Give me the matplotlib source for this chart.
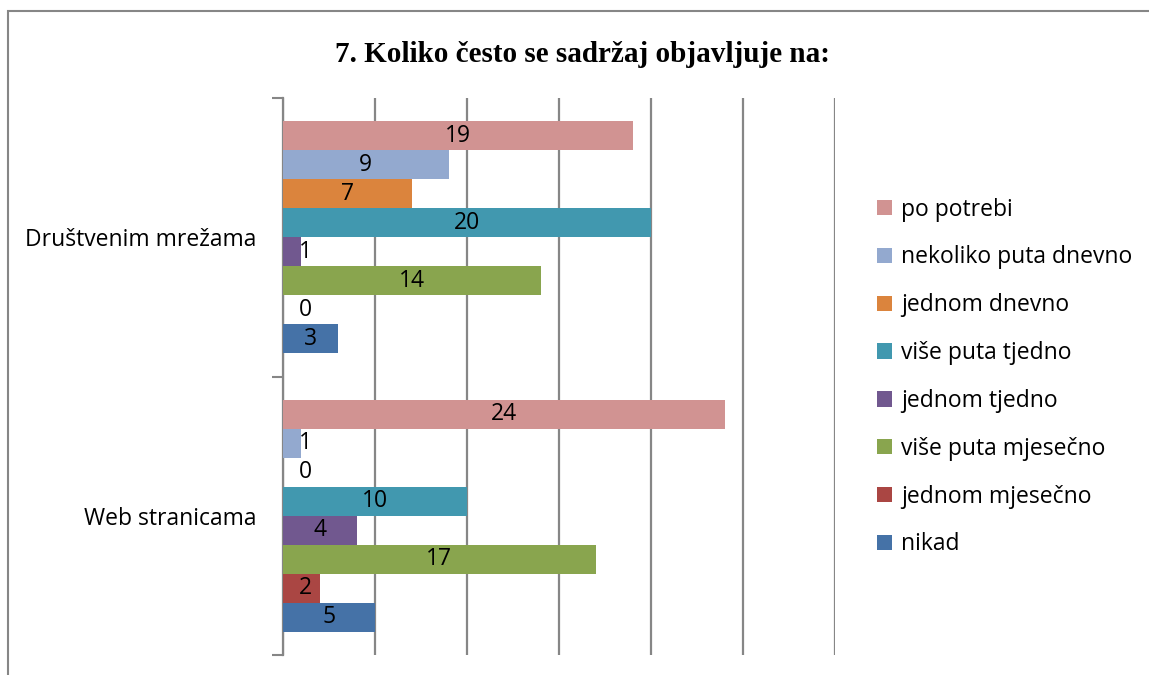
import matplotlib.pyplot as plt
import numpy as np
from matplotlib.patches import Rectangle

categories = ['Društvenim mrežama', 'Web stranicama']
series = ['po potrebi', 'nekoliko puta dnevno', 'jednom dnevno', 'više puta tjedno',
          'jednom tjedno', 'više puta mjesečno', 'jednom mjesečno', 'nikad']
drustvene = [19, 9, 7, 20, 1, 14, 0, 3]
web = [24, 1, 0, 10, 4, 17, 2, 5]
colors = ['#D19392', '#93A9CF', '#DB843D', '#4198AF', '#71588F', '#89A54E', '#AA4643', '#4572A7']

values = np.array([drustvene, web])

fig = plt.figure(figsize=(11.49, 6.75), dpi=100)
ax = fig.add_axes([0.2463, 0.0296, 0.4804, 0.8252])

# outer chart frame (runs off the right and bottom edge)
fig.patches.append(Rectangle((8/1149, -0.1), 1.2, 1 - 11/675 + 0.1, transform=fig.transFigure,
                             fill=False, edgecolor='#868686', linewidth=1.5))

n = len(series)
h = 0.104
for i, name in enumerate(series):
    y = np.arange(len(categories)) + (i - (n - 1) / 2) * h
    ax.barh(y, values[:, i], height=h, color=colors[i], label=name, zorder=3)
    for yy, v in zip(y, values[:, i]):
        ax.text(max(v / 2, 1.2), yy, str(v), ha='center', va='center',
                fontsize=16.5, family='Open Sans', zorder=4)

ax.set_xlim(0, 30)
ax.set_ylim(1.5, -0.5)
ax.set_xticks(np.arange(0, 31, 5))
ax.tick_params(axis='x', length=0, labelbottom=False)
ax.grid(axis='x', color='#868686', linewidth=1.6, zorder=0)
ax.set_yticks(range(len(categories)))
ax.set_yticklabels(categories, fontsize=16.5, family='Open Sans')
ax.set_yticks([-0.5, 0.5, 1.5], minor=True)
ax.tick_params(axis='y', which='major', length=0, pad=19)
ax.tick_params(axis='y', which='minor', length=8, width=1.5, color='#868686')
for s in ['top', 'right', 'bottom']:
    ax.spines[s].set_visible(False)
ax.spines['left'].set_color('#868686')
ax.spines['left'].set_linewidth(1.6)

fig.text(0.5 * (333 + 832) / 1149, 1 - 55 / 675, '7. Koliko često se sadržaj objavljuje na:',
         ha='center', va='center', fontsize=21, fontweight='bold', family='Liberation Serif')

fig.legend(loc='center left', bbox_to_anchor=(877 / 1149, 1 - 377 / 675), frameon=False,
           prop={'family': 'Open Sans', 'size': 16.5}, handlelength=0.65, handleheight=0.65,
           handletextpad=0.4, labelspacing=1.04, borderpad=0, borderaxespad=0)

fig.savefig('out.png', dpi=100)
